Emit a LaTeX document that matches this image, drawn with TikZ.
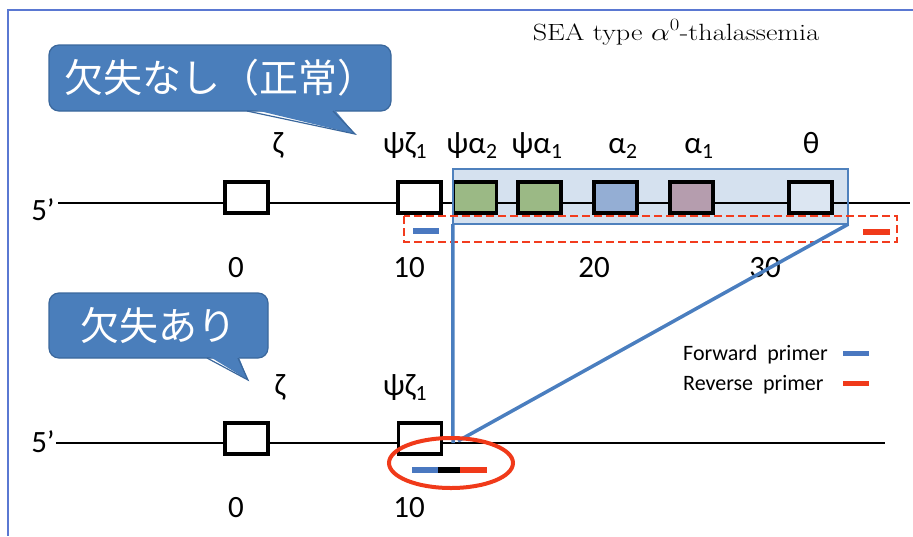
\documentclass[tikz,border=0pt]{standalone}
\usepackage{fontspec}
\newfontfamily\cjk{Noto Sans CJK JP}
\newfontfamily\calib{Carlito}
\usetikzlibrary{shapes.geometric}
\definecolor{frameblue}{HTML}{5A78D2}
\definecolor{callfill}{HTML}{4A7EBB}
\definecolor{callline}{HTML}{3A679C}
\definecolor{hlfill}{HTML}{B9CDE5}
\definecolor{hlline}{HTML}{4F81BD}
\definecolor{linkblue}{HTML}{4A7EBF}
\definecolor{dashred}{HTML}{F23C1E}
\definecolor{gpsi}{HTML}{9BB985}
\definecolor{galpha}{HTML}{94AED4}
\definecolor{galphaone}{HTML}{B59DAE}
\definecolor{gtheta}{HTML}{DCE6F2}
\definecolor{primblue}{HTML}{4A78C0}
\definecolor{primred}{HTML}{F03A1A}
\tikzset{
  genebox/.style={draw=black, line width=3.5pt, fill=white, inner sep=0pt,
    minimum width=43pt, minimum height=31pt},
  glabel/.style={font=\calib\fontsize{31}{33}\selectfont, anchor=base, inner sep=0pt},
  numlabel/.style={font=\calib\fontsize{31}{33}\selectfont, anchor=base, inner sep=0pt},
  legtext/.style={font=\calib\fontsize{22}{24}\selectfont, anchor=base west, inner sep=0pt},
  callbox/.style={fill=callfill, draw=callline, line width=1.2pt, rounded corners=10pt,
    text=white, font=\cjk\fontsize{39}{40}\selectfont, inner sep=0pt},
  dnaline/.style={draw=black, line width=2pt},
  linkline/.style={draw=linkblue, line width=3.5pt},
  primerbar/.style={line width=5.5pt},
}
\begin{document}
\begin{tikzpicture}[x=1pt,y=-1pt]
\useasboundingbox (0,0) rectangle (913,536);
% frame
\coordinate (fr1) at (913,10);
\coordinate (fr2) at (8,10);
\coordinate (fr3) at (8,536);
\draw[frameblue, line width=2.5pt] (fr1) -- (fr2) -- (fr3);

% title
\node[anchor=base, inner sep=0pt, font=\fontsize{23.5}{25}\selectfont] (title) at (676,40)
  {\scalebox{1.2}[1]{SEA type $\alpha^0$-thalassemia}};

% callouts
\node[callbox, minimum width=342pt, minimum height=66pt] (c1) at (220,78) {欠失なし（正常）};
\fill[callfill] (247,108) -- (355,134) -- (333,108) -- cycle;
\draw[callline, line width=1.2pt] (247,111) -- (355,134) -- (333,111);
\node[callbox, minimum width=219pt, minimum height=65pt] (c2) at (158.5,325.5) {欠失あり};
\fill[callfill] (207,355) -- (248,380) -- (238,355) -- cycle;
\draw[callline, line width=1.2pt] (207,358) -- (248,380) -- (238,358);

% ---------- top row ----------
\node[fill=hlfill, fill opacity=0.6, draw=none, inner sep=0pt,
  minimum width=395pt, minimum height=55pt] (hl) at (650.5,196.5) {};
\node[glabel] (f5t) at (43,220) {5’};
\coordinate (tl0) at (58,203);
\coordinate (tl1) at (910,203);
\draw[dnaline] (tl0) -- (tl1);
\node[genebox] (zt) at (246.5,197.5) {};
\node[genebox] (pzt) at (419.5,197.5) {};
\node[genebox, fill=gpsi] (pa2) at (475,197.5) {};
\node[genebox, fill=gpsi] (pa1) at (539.5,197.5) {};
\node[genebox, fill=galpha] (a2) at (615.5,197.5) {};
\node[genebox, fill=galphaone] (a1) at (691.5,197.5) {};
\node[genebox, fill=gtheta] (th) at (810.5,197.5) {};
\draw[hlline, line width=1.5pt] (hl.south west) rectangle (hl.north east);

\node[glabel] (lzt) at (278,153) {ζ};
\node[glabel] (lpzt) at (405,153) {ψζ\textsubscript{1}};
\node[glabel] (lpa2) at (472,153) {ψα\textsubscript{2}};
\node[glabel] (lpa1) at (537,153) {ψα\textsubscript{1}};
\node[glabel] (la2) at (623,153) {α\textsubscript{2}};
\node[glabel] (la1) at (699,153) {α\textsubscript{1}};
\node[glabel] (lth) at (811,153) {θ};

\node[numlabel] (n0t) at (236,277) {0};
\node[numlabel] (n10t) at (409,277) {10};
\node[numlabel] (n20t) at (594,277) {20};
\node[numlabel] (n30t) at (765,277) {30};

% dashed primer region
\coordinate (dr1) at (404,216);
\coordinate (dr2) at (897,242);
\draw[dashred, line width=2.5pt, dash pattern=on 8pt off 4pt] (dr1) rectangle (dr2);
\coordinate (pf1) at (413,231);
\coordinate (pf2) at (439,231);
\draw[primblue, primerbar] (pf1) -- (pf2);
\coordinate (pr1) at (863,232);
\coordinate (pr2) at (890,232);
\draw[primred, primerbar] (pr1) -- (pr2);

% ---------- bottom row ----------
\node[glabel] (f5b) at (43,452) {5’};
\coordinate (bl0) at (56,443);
\coordinate (bl1) at (885,443);
\draw[dnaline] (bl0) -- (bl1);
\node[genebox] (zb) at (246.5,438.5) {};
\node[genebox] (pzb) at (420,438.5) {};
\node[glabel] (lzb) at (280,395) {ζ};
\node[glabel] (lpzb) at (405,395) {ψζ\textsubscript{1}};
\node[numlabel] (n0b) at (236,517) {0};
\node[numlabel] (n10b) at (409,517) {10};

% deletion links
\coordinate (jv) at (453,443);
\coordinate (jd) at (458,441);
\draw[linkline] (hl.south west) -- (jv);
\draw[linkline] (hl.south east) -- (jd);

% junction primer
\coordinate (b1) at (412,470);
\coordinate (b2) at (438,470);
\coordinate (b3) at (460,470);
\coordinate (b4) at (487,470);
\draw[primblue, line width=6pt] (b1) -- (b2);
\draw[black, line width=6pt] (b2) -- (b3);
\draw[primred, line width=6pt] (b3) -- (b4);
\node[draw=primred, line width=4pt, ellipse, minimum width=124pt, minimum height=50pt, inner sep=0pt] (circ) at (451,463) {};

% legend
\node[legtext] (lf) at (683,360) {Forward\ \ primer};
\node[legtext] (lr) at (683,390) {Reverse\ \ primer};
\coordinate (lb1) at (843,353);
\coordinate (lb2) at (869,353);
\draw[primblue, line width=5pt] (lb1) -- (lb2);
\coordinate (lc1) at (843,383);
\coordinate (lc2) at (869,383);
\draw[primred, line width=5pt] (lc1) -- (lc2);
\end{tikzpicture}
\end{document}
